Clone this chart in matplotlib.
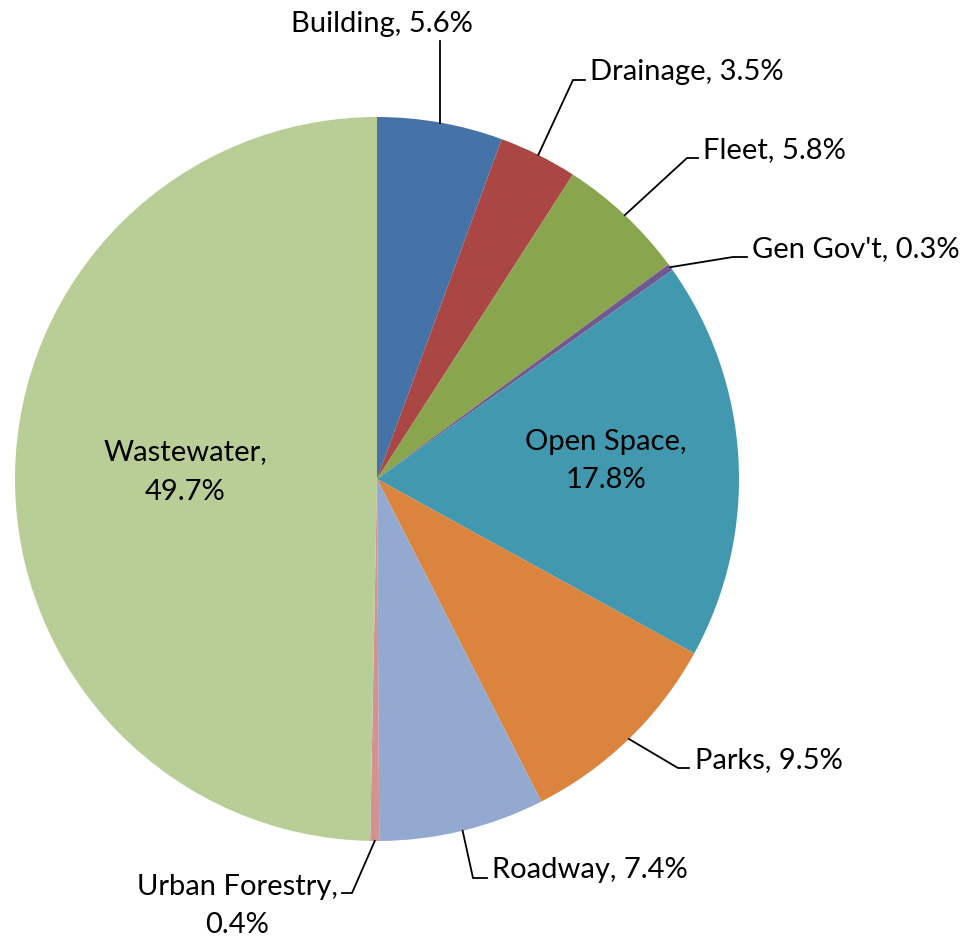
import numpy as np
import matplotlib.pyplot as plt

W, H = 965, 938

labels = ['Building', 'Drainage', 'Fleet', "Gen Gov't", 'Open Space',
          'Parks', 'Roadway', 'Urban Forestry', 'Wastewater']
values = [5.6, 3.5, 5.8, 0.3, 17.8, 9.5, 7.4, 0.4, 49.7]
colors = ['#4572A7', '#AA4643', '#89A54E', '#71588F', '#4198AF',
          '#DB843D', '#93A9CF', '#D19392', '#B9CD96']

# pie geometry in pixels (top-down y)
cx, cy, R = 377, 479, 362
FONT = 'Lato'
FS = 21

def py(y):
    return H - y

fig = plt.figure(figsize=(W / 100, H / 100), dpi=100)
ax = fig.add_axes([0, 0, 1, 1])

wedges, _ = ax.pie(values, colors=colors, startangle=90, counterclock=False,
                   center=(cx, py(cy)), radius=R, frame=True,
                   wedgeprops=dict(linewidth=0))
ax.set_xlim(0, W)
ax.set_ylim(0, H)
ax.set_aspect('equal')
ax.axis('off')

def anchor(i):
    w = wedges[i]
    mid = np.radians((w.theta1 + w.theta2) / 2)
    return cx + R * np.cos(mid), cy - R * np.sin(mid)

# external labels: (index, elbow, tail end, text x, baseline y, ha)
outside = [
    (0, None, None, 382, 32, 'center'),
    (1, (573, 80), (585, 80), 590, 80, 'left'),
    (2, (687, 158), (698, 158), 703, 158, 'left'),
    (3, (733, 257), (747, 257), 752, 257, 'left'),
    (5, (678, 768), (689, 768), 695, 768, 'left'),
    (6, (473, 878), (487, 878), 492, 878, 'left'),
]

for i, elbow, tail, tx, ty, ha in outside:
    axx, ayy = anchor(i)
    if elbow is None:
        xs, ys = [axx, axx], [ayy, 41]
    else:
        xs, ys = [axx, elbow[0], tail[0]], [ayy, elbow[1], tail[1]]
    ax.plot(xs, [py(v) for v in ys], color='black', lw=1.3, solid_joinstyle='miter')
    ax.text(tx, py(ty), '%s, %.1f%%' % (labels[i], values[i]), ha=ha,
            va='baseline', fontsize=FS, family=FONT)

# Urban Forestry (two lines, centred)
axx, ayy = anchor(7)
ax.plot([axx, 352, 342], [py(ayy), py(893), py(893)], color='black', lw=1.3)
ax.text(237, py(895), '%s,' % labels[7], ha='center', va='baseline',
        fontsize=FS, family=FONT)
ax.text(237, py(933), '%.1f%%' % values[7], ha='center', va='baseline',
        fontsize=FS, family=FONT)

# inside labels
for i, x0, y1, y2 in [(4, 606, 450, 488), (8, 185, 460, 500)]:
    ax.text(x0, py(y1), '%s,' % labels[i], ha='center', va='baseline',
            fontsize=FS, family=FONT)
    ax.text(x0, py(y2), '%.1f%%' % values[i], ha='center', va='baseline',
            fontsize=FS, family=FONT)

fig.savefig('out.png', dpi=100)
